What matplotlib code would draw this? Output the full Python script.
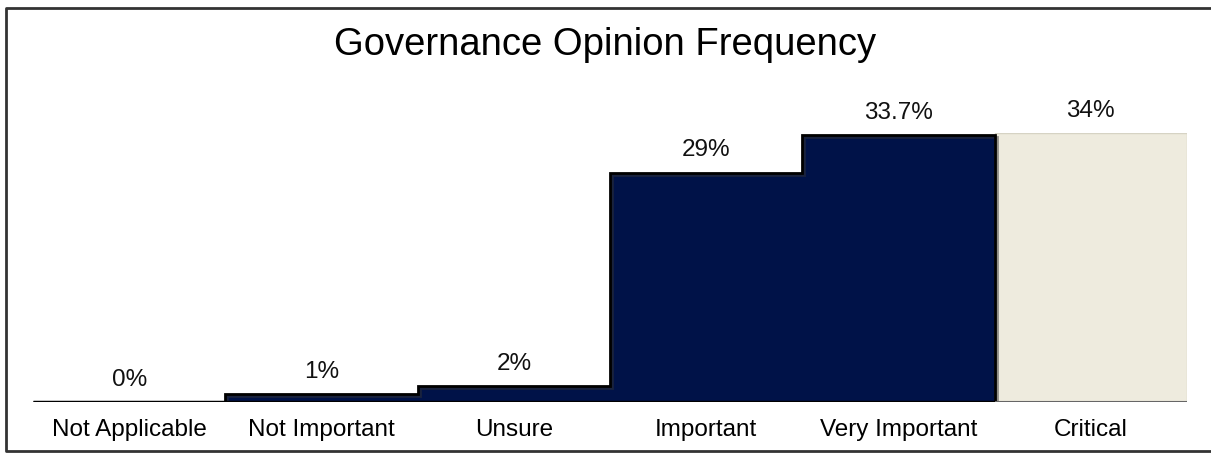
import numpy as np
import matplotlib
matplotlib.use('Agg')
import matplotlib.pyplot as plt
from matplotlib.lines import Line2D
import matplotlib.patheffects as pe

# governance survey responses
categories = ['Not Applicable', 'Not Important', 'Unsure', 'Important', 'Very Important', 'Critical']
percent = [0, 1, 2, 29, 33.7, 34]
labels = ['0%', '1%', '2%', '29%', '33.7%', '34%']

navy = '#001248'
beige = '#eeebde'

plt.rcParams['font.family'] = ['Liberation Sans', 'DejaVu Sans']

fig = plt.figure(figsize=(12.11, 4.53), dpi=100)
ax = fig.add_axes([33/1211, 1-402/453, 1154/1211, 269/453])

x = np.arange(len(categories))
edges = np.arange(len(categories)+1) - 0.5
colors = [navy]*5 + [beige]
bars = ax.bar(x, percent, width=1.0, color=colors, linewidth=0)
bars[-1].set_edgecolor('#d6d3c4')
bars[-1].set_linewidth(1)

# outline around the dark steps
shadow = [pe.SimpleLineShadow(offset=(1.5, -1.5), shadow_color='#333333', alpha=0.5), pe.Normal()]
ax.stairs(percent[:5], edges[:6], baseline=0, color='black', lw=2, path_effects=shadow)
ax.hlines(0, edges[0], edges[5], color='black', lw=2.5, path_effects=shadow)
ax.hlines(0, edges[5], edges[6], color='#666666', lw=1.5)

for xi, v, t in zip(x, percent, labels):
    ax.annotate(t, (xi, v), xytext=(0, 8), textcoords='offset points',
                ha='center', va='bottom', fontsize=17.5, color='#111111')

ax.set_xlim(edges[0], edges[-1])
ax.set_ylim(0, 34)
ax.set_xticks(x)
ax.set_xticklabels(categories, fontsize=17.5)
ax.tick_params(axis='x', length=0, pad=12)
ax.set_yticks([])
for s in ax.spines.values():
    s.set_visible(False)

fig.text(0.5, 1-45/453, 'Governance Opinion Frequency', ha='center', va='center', fontsize=27.5)

# outer frame: left, top and bottom only
fl, ft, fb = 6/1211, 1-8/453, 2/453
fig.add_artist(Line2D([1, fl, fl, 1], [ft, ft, fb, fb], transform=fig.transFigure,
                      color='#333333', lw=2))

fig.savefig('out.png', dpi=100)
